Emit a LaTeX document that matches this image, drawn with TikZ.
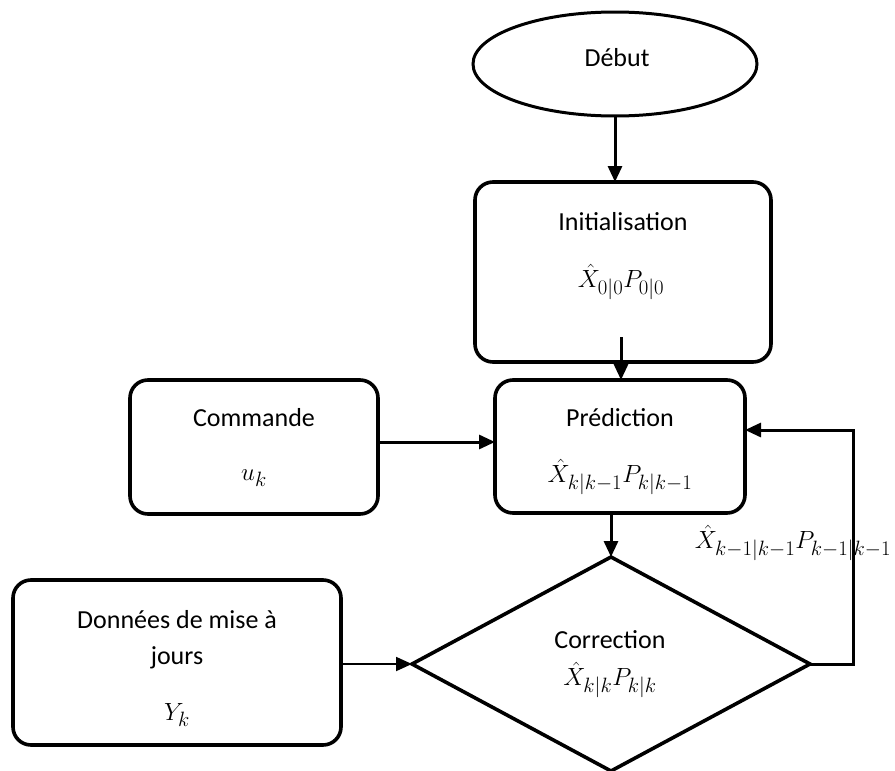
\documentclass[tikz,border=0pt]{standalone}
\usepackage{fontspec}
\setmainfont{Carlito}
\usetikzlibrary{shapes.geometric,arrows.meta,calc}
\begin{document}
\begin{tikzpicture}[x=1pt,y=-1pt,
  every node/.style={font=\fontsize{26}{31}\selectfont},
  box/.style={draw, line width=3.6pt, rounded corners=18pt, inner sep=0pt, outer sep=0pt},
  conn/.style={line width=3pt, -{Triangle[length=16pt,width=14pt]}},
  thinconn/.style={line width=1.8pt, -{Triangle[length=16pt,width=14pt]}},
  txt/.style={inner sep=0pt},
  mtxt/.style={inner sep=0pt, font=\fontsize{28}{33}\selectfont}]
\useasboundingbox (0,0) rectangle (895,771);
% start
\node[draw, ellipse, line width=3pt, minimum width=284pt, minimum height=104pt, inner sep=0pt, outer sep=0pt] (debut) at (615,64) {};
\node[txt] (debuttxt) at (617,58) {Début};
% initialisation
\node[box, minimum width=296pt, minimum height=180pt] (init) at (623,272) {};
\node[txt] (inittxt) at (623,222) {Initialisation};
\node[mtxt] (initmath) at (621,282) {$\hat{X}_{0|0}P_{0|0}$};
% commande
\node[box, minimum width=248pt, minimum height=134pt] (cmd) at (254,447) {};
\node[txt] (cmdtxt) at (254,418) {Commande};
\node[mtxt] (cmdmath) at (254,478) {$u_k$};
% prediction
\node[box, minimum width=250pt, minimum height=133pt] (pred) at (620,446.5) {};
\node[txt] (predtxt) at (620,418) {Prédiction};
\node[mtxt] (predmath) at (620,477) {$\hat{X}_{k|k-1}P_{k|k-1}$};
% correction
\node[draw, diamond, line width=3.6pt, minimum width=398pt, minimum height=214pt, inner sep=0pt, outer sep=0pt] (corr) at (611,664) {};
\node[txt] (corrtxt) at (610,640) {Correction};
\node[mtxt] (corrmath) at (610,680) {$\hat{X}_{k|k}P_{k|k}$};
% donnees
\node[box, minimum width=328pt, minimum height=165pt] (data) at (177,662.5) {};
\node[txt] (datatxt1) at (177,620) {Données de mise à};
\node[txt] (datatxt2) at (177,658) {jours};
\node[mtxt] (datamath) at (177,715) {$Y_k$};
% feedback label
\node[mtxt] (fblabel) at (793,543) {$\hat{X}_{k-1|k-1}P_{k-1|k-1}$};
% connectors
\draw[conn] (debut.south) -- (debut.south |- init.north);
\coordinate (initout) at (621,337);
\draw[conn] (initout) -- (initout |- pred.north);
\coordinate (cmdy) at (0,442);
\draw[conn] (cmd.east |- cmdy) -- (pred.west |- cmdy);
\draw[conn] (corr.north |- pred.south) -- (corr.north);
\draw[thinconn] (data.east |- corr.west) -- (corr.west);
\coordinate (loopc) at (853,430);
\draw[conn] (corr.east) -| (loopc) -- (pred.east |- loopc);
\end{tikzpicture}
\end{document}
